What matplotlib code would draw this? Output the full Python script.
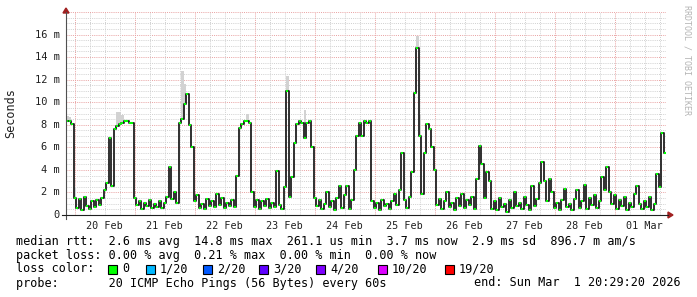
import matplotlib
matplotlib.use("Agg")
import matplotlib.pyplot as plt
from matplotlib.patches import Rectangle, Polygon
import numpy as np

W, H = 697, 297
plt.rcParams['font.family'] = ['DejaVu Sans Mono']

# median rtt, one value per hour (ms), starting Feb 19 20:29:20
median_ms = [
    8.3, 8.3, 8.1, 1.5, 0.6, 1.4, 0.4, 1.6, 0.8, 0.5, 1.2, 0.7, 1.3, 0.9, 1.5, 2.2,
    2.8, 6.8, 2.6, 7.6, 7.9, 8.1, 8.2, 8.3, 8.3, 8.2, 8.2, 1.5, 0.9, 1.2, 0.5, 1.1,
    0.8, 1.3, 0.6, 1.0, 0.7, 1.2, 0.6, 1.1, 1.6, 4.3, 1.4, 2.0, 1.1, 8.2, 8.5, 9.8,
    10.7, 8.0, 6.0, 1.2, 1.8, 0.6, 1.0, 0.5, 1.4, 0.8, 1.2, 0.7, 1.9, 0.9, 1.5, 0.6,
    1.1, 0.8, 1.3, 0.7, 3.5, 7.7, 8.1, 8.3, 8.3, 8.2, 2.0, 0.7, 1.3, 0.5, 1.2, 0.8,
    1.4, 0.6, 1.1, 0.7, 3.9, 0.9, 0.5, 2.5, 11.0, 1.6, 3.4, 6.4, 8.1, 8.3, 8.2, 6.8,
    8.2, 8.3, 6.0, 1.5, 0.8, 1.3, 0.5, 1.0, 2.0, 0.7, 1.2, 0.4, 1.5, 2.6, 0.6, 1.8,
    2.6, 0.5, 1.3, 4.0, 7.0, 8.2, 7.0, 8.3, 8.2, 8.3, 1.2, 0.6, 1.1, 0.4, 1.3, 0.8,
    1.0, 0.5, 1.2, 1.9, 0.9, 2.2, 5.5, 1.3, 0.6, 1.6, 3.8, 10.8, 14.8, 7.0, 1.9, 5.5,
    8.1, 7.6, 6.0, 4.0, 0.9, 1.4, 0.5, 1.2, 2.0, 0.7, 1.1, 0.4, 1.5, 0.8, 1.9, 0.6,
    1.3, 0.9, 1.6, 0.5, 3.2, 6.1, 4.5, 1.5, 3.8, 3.0, 0.5, 1.2, 0.4, 1.5, 0.7, 1.0,
    0.3, 1.3, 0.6, 2.0, 0.8, 1.1, 0.5, 1.6, 0.9, 0.4, 2.6, 0.8, 1.4, 2.8, 4.7, 3.0,
    1.2, 3.2, 2.0, 0.6, 1.1, 0.4, 1.3, 2.3, 0.7, 1.0, 0.4, 1.4, 2.2, 0.6, 1.2, 2.7,
    0.5, 1.5, 0.9, 1.8, 0.6, 1.2, 3.4, 2.2, 4.3, 2.0, 1.0, 1.8, 0.5, 1.3, 0.8, 1.6,
    0.4, 1.1, 0.7, 1.9, 2.6, 1.0, 0.5, 1.2, 0.7, 1.6, 0.4, 1.0, 3.6, 2.5, 7.3, 5.5,
]

# visible smoke tops (hour index -> max ms)
smoke_idx = [0, 1, 3, 20, 21, 22, 46, 47, 72, 88, 95, 140, 141]
smoke_max = [8.8, 8.7, 2.5, 9.1, 9.1, 8.9, 12.8, 11.6, 9.0, 12.3, 9.3, 15.9, 9.0]

day_labels = ["20 Feb", "21 Feb", "22 Feb", "23 Feb", "24 Feb",
              "25 Feb", "26 Feb", "27 Feb", "28 Feb", "01 Mar"]
y_ticks = [0, 2, 4, 6, 8, 10, 12, 14, 16]

stats_line = "median rtt:  2.6 ms avg  14.8 ms max  261.1 us min  3.7 ms now  2.9 ms sd  896.7 m am/s"
loss_line = "packet loss: 0.00 % avg  0.21 % max  0.00 % min  0.00 % now"
loss_labels = ["0", "1/20", "2/20", "3/20", "4/20", "10/20", "19/20"]
loss_colors = ["#00ff00", "#00b8ff", "#0059ff", "#5e00ff", "#7e00ff", "#dd00ff", "#ff0000"]
probe_line = "probe:       20 ICMP Echo Pings (56 Bytes) every 60s"
end_line = "end: Sun Mar  1 20:29:20 2026"

first_midnight = 3.51  # hours from start to Feb 20 00:00


def fx(px):
    return px / W


def fy(py):
    return 1 - py / H


fig = plt.figure(figsize=(W / 100, H / 100), dpi=100)
ax = fig.add_axes([fx(66), fy(215), 600 / W, (215 - 12) / H])
ax.set_xlim(0, 240)
ax.set_ylim(0, 18)
for s in ax.spines.values():
    s.set_visible(False)
ax.set_xticks([])
ax.set_yticks([])

# grid
for v in np.arange(0.5, 18.01, 0.5):
    major = abs(v / 2 - round(v / 2)) < 1e-6
    ax.axhline(v, color='#e8a0a0' if major else '#d0d0d0', lw=0.7,
               ls=(0, (1, 1.2)), zorder=1)
for k in range(-1, 41):
    t = first_midnight + 6 * k
    if 0 < t < 240:
        major = k % 4 == 0
        ax.axvline(t, color='#e8a0a0' if major else '#d0d0d0', lw=0.7,
                   ls=(0, (1, 1.2)), zorder=1)

hours = np.arange(len(median_ms))
med = np.array(median_ms)

# smoke
for i, top in zip(smoke_idx, smoke_max):
    ax.fill_between([i, i + 1], [med[i], med[i]], [top, top], color='#d2d2d2',
                    lw=0, zorder=2)

# median line (black steps, green loss-colour ticks)
xs = np.append(hours, len(med))
ys = np.append(med, med[-1])
ax.step(xs, ys, where='post', color='#202020', lw=1.3, zorder=3)
ax.hlines(med, hours + 0.1, hours + 0.9, color='#00ff00', lw=1.5, zorder=4)

# axes lines with arrows
fig.add_artist(plt.Line2D([fx(66), fx(66)], [fy(219), fy(12)], color='#505050', lw=0.8))
fig.add_artist(plt.Line2D([fx(62), fx(668)], [fy(215), fy(215)], color='#202020', lw=0.8))
fig.add_artist(Polygon([[fx(63), fy(13)], [fx(69), fy(13)], [fx(66), fy(8)]],
                       closed=True, color='#a02020'))
fig.add_artist(Polygon([[fx(668), fy(212)], [fx(668), fy(218)], [fx(673), fy(215)]],
                       closed=True, color='#a02020'))

# tick labels
for v in y_ticks:
    lab = "0" if v == 0 else f"{v} m"
    ax.text(-6 / 2.5 * 1.0, v, lab, ha='right', va='center', fontsize=7.5,
            color='#202020', transform=ax.transData, clip_on=False)
for k, lab in enumerate(day_labels):
    ax.text(first_midnight + 12 + 24 * k, -0.55, lab, ha='center', va='top',
            fontsize=7.3, color='#202020', clip_on=False)

fig.text(fx(11), fy(113), "Seconds", rotation=90, ha='center', va='center',
         fontsize=8.5, color='#202020')
fig.text(fx(687), fy(5), "RRDTOOL / TOBI OETIKER", rotation=270, ha='center',
         va='top', fontsize=6, color='#b4b4b4')

# legend / stats
fs = 8.5
fig.text(fx(16), fy(241), stats_line, ha='left', va='center', fontsize=fs)
fig.text(fx(16), fy(255), loss_line, ha='left', va='center', fontsize=fs)
fig.text(fx(16), fy(269), "loss color:", ha='left', va='center', fontsize=fs)
sq_x = [108, 146, 203, 259, 316, 378, 445]
for px, lab, c in zip(sq_x, loss_labels, loss_colors):
    fig.add_artist(Rectangle((fx(px), fy(274)), 9 / W, 9 / H, facecolor=c,
                             edgecolor='black', lw=0.8))
    fig.text(fx(px + 14), fy(269), lab, ha='left', va='center', fontsize=fs)
fig.text(fx(16), fy(283), probe_line, ha='left', va='center', fontsize=fs)
fig.text(fx(681), fy(283), end_line, ha='right', va='center', fontsize=fs)

fig.savefig("out.png", dpi=100, facecolor='white')
